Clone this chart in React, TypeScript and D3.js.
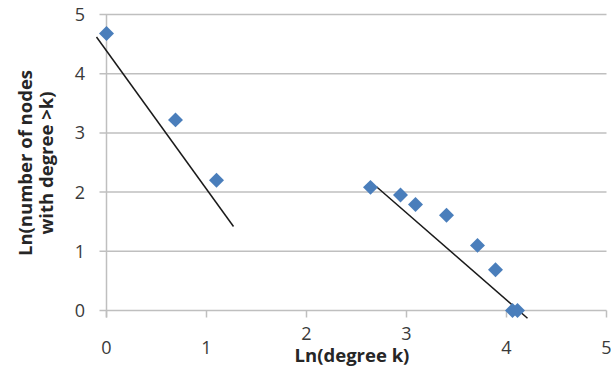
import React from "react";
import * as d3 from "d3";

// ln(k) and ln(count of nodes with degree > k)
const lnDegree = [0, 0.69, 1.1, 2.64, 2.94, 3.09, 3.4, 3.71, 3.89, 4.06, 4.11];
const lnCount = [4.68, 3.22, 2.2, 2.08, 1.95, 1.79, 1.61, 1.1, 0.69, 0, 0];

// two fitted trend segments [x1, y1, x2, y2]
const fitLines = [
  [-0.1, 4.62, 1.27, 1.42],
  [2.7, 2.09, 4.21, -0.13],
];

const xTicks = [0, 1, 2, 3, 4, 5];
const yTicks = [0, 1, 2, 3, 4, 5];

const App = () => {
  const width = 611;
  const height = 375;
  const x = d3.scaleLinear().domain([0, 5]).range([106.5, 606.5]);
  const y = d3.scaleLinear().domain([0, 5]).range([310.5, 14.5]);
  const diamond = d3.symbol().type(d3.symbolSquare).size(112);
  const font = "'Open Sans', sans-serif";
  const titleX = 352;
  const titleHalf = 62;

  return (
    <svg
      width={width}
      height={height}
      style={{ position: "absolute", left: 0, top: 0, background: "#fff" }}
    >
      <g>
        {yTicks.map((t) => (
          <g key={t}>
            <line x1={x(0) - 7} x2={x(5)} y1={y(t)} y2={y(t)} stroke="#bfbfbf" strokeWidth={1.5} />
            <text
              x={85}
              y={y(t)}
              dy="0.36em"
              textAnchor="end"
              fontSize={18}
              fontFamily={font}
              fill="#3a3a3a"
            >
              {t}
            </text>
          </g>
        ))}
        <line x1={x(0)} x2={x(0)} y1={y(5)} y2={y(0) + 7} stroke="#bfbfbf" strokeWidth={1.5} />
        {xTicks.map((t) => {
          // labels overlapping the axis title get pushed up, as in the source
          const clash = Math.abs(x(t) - titleX) < titleHalf;
          return (
            <g key={t}>
              <line x1={x(t)} x2={x(t)} y1={y(0)} y2={y(0) + 7} stroke="#bfbfbf" strokeWidth={1.5} />
              <text
                x={x(t)}
                y={clash ? 340 : 354}
                textAnchor="middle"
                fontSize={18}
                fontFamily={font}
                fill="#3a3a3a"
              >
                {t}
              </text>
            </g>
          );
        })}
      </g>
      <g>
        {fitLines.map((l, i) => (
          <line
            key={i}
            x1={x(l[0])}
            y1={y(l[1])}
            x2={x(l[2])}
            y2={y(l[3])}
            stroke="#1a1a1a"
            strokeWidth={1.5}
          />
        ))}
      </g>
      <g>
        {lnDegree.map((d, i) => (
          <path
            key={i}
            d={diamond()}
            transform={`translate(${x(d)},${y(lnCount[i])}) rotate(45)`}
            fill="#4a7ebb"
          />
        ))}
      </g>
      <text
        x={titleX}
        y={362}
        textAnchor="middle"
        fontSize={18.5}
        fontWeight="bold"
        fontFamily={font}
        fill="#262626"
      >
        Ln(degree k)
      </text>
      <g transform="translate(0,163) rotate(-90)" fontFamily={font} fontWeight="bold" fontSize={18.5} fill="#262626">
        <text x={0} y={32} textAnchor="middle">
          Ln(number of nodes
        </text>
        <text x={0} y={53} textAnchor="middle">
          with degree &gt;k)
        </text>
      </g>
    </svg>
  );
};

export default App;
